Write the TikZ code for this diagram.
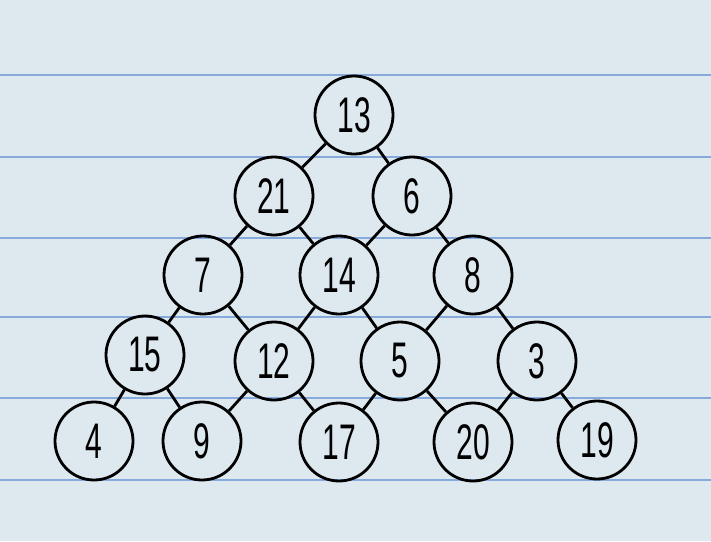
\documentclass[tikz,border=0pt]{standalone}
\usepackage{fontspec}
\usepackage{graphicx}
\setmainfont{Liberation Sans}
\definecolor{paper}{HTML}{DDE8EF}
\definecolor{rule}{HTML}{86AADB}
\newcommand\hw[1]{\scalebox{0.6}[1]{#1}}
\tikzset{
  num/.style={circle, draw=black, line width=2.8pt, minimum size=78pt, inner sep=0pt, font=\fontsize{50}{50}\selectfont},
  link/.style={line width=2.8pt, black},
  ruling/.style={rule, line width=1.2pt}
}
\begin{document}
\begin{tikzpicture}[x=1pt,y=-1pt]
\fill[paper] (0,0) rectangle (711,541);
\useasboundingbox (0,0) rectangle (711,541);
\foreach \yy in {75,157,238,317,398,480} \draw[ruling] (0,\yy) -- (711,\yy);
\node[num] (n13) at (354,115) {\hw{13}};
\node[num] (n21) at (274,196) {\hw{21}};
\node[num] (n6) at (412,196) {\hw{6}};
\node[num] (n7) at (203,275) {\hw{7}};
\node[num] (n14) at (339,275) {\hw{14}};
\node[num] (n8) at (473,275) {\hw{8}};
\node[num] (n15) at (145,355) {\hw{15}};
\node[num] (n12) at (274,361) {\hw{12}};
\node[num] (n5) at (400,361) {\hw{5}};
\node[num] (n3) at (537,361) {\hw{3}};
\node[num] (n4) at (94,441) {\hw{4}};
\node[num] (n9) at (202,441) {\hw{9}};
\node[num] (n17) at (339,442) {\hw{17}};
\node[num] (n20) at (473,442) {\hw{20}};
\node[num] (n19) at (597,440) {\hw{19}};
\foreach \a/\b in {n13/n21,n13/n6,n21/n7,n21/n14,n6/n14,n6/n8,n7/n15,n7/n12,n14/n12,n14/n5,n8/n5,n8/n3,n15/n4,n15/n9,n12/n9,n12/n17,n5/n17,n5/n20,n3/n20,n3/n19}
  \draw[link] (\a) -- (\b);
\end{tikzpicture}
\end{document}
